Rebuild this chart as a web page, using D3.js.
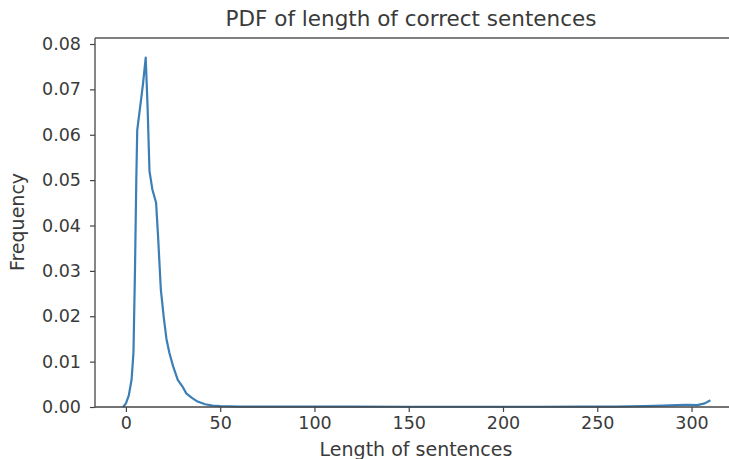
<!DOCTYPE html>
<html>
<head>
<meta charset="utf-8">
<script src="https://cdn.jsdelivr.net/npm/d3@7/dist/d3.min.js"></script>
<style>
html,body{margin:0;padding:0;background:#fff;}
svg text{font-family:"DejaVu Sans",sans-serif;fill:#3a3a3a;}
</style>
</head>
<body>
<svg id="chart" width="729" height="459"></svg>
<script>
const lengths = [-1.5, 0, 1.5, 3, 4, 4.8, 5.5, 6, 7.5, 9, 10.5, 11.5, 12.5, 14, 16, 17, 18.5, 20, 21.5, 23, 25, 27.5, 30, 32, 35, 38, 42, 46, 50, 60, 80, 100, 120, 150, 180, 200, 220, 240, 260, 275, 285, 292, 298, 303, 307, 310];
const density = [0, 0.0008, 0.0025, 0.006, 0.012, 0.03, 0.05, 0.061, 0.066, 0.071, 0.077, 0.066, 0.052, 0.048, 0.045, 0.038, 0.026, 0.02, 0.015, 0.012, 0.009, 0.006, 0.0045, 0.003, 0.002, 0.0012, 0.0006, 0.0003, 0.0002, 0.0001, 0.0001, 0.00008, 0.00008, 0.00005, 0.00005, 0.00005, 0.00006, 0.00008, 0.0001, 0.0002, 0.0003, 0.0004, 0.0005, 0.0004, 0.0008, 0.0015];
const xTicks = [0, 50, 100, 150, 200, 250, 300];
const yTicks = [0.00, 0.01, 0.02, 0.03, 0.04, 0.05, 0.06, 0.07, 0.08];
const titleText = "PDF of length of correct sentences";
const xLabel = "Length of sentences";
const yLabel = "Frequency";

(function () {
const svg = d3.select("#chart");
const pLeft = 95, pRight = 740, pTop = 38, pBottom = 407;
const x = d3.scaleLinear().domain([-16.4, 325.7]).range([pLeft, pRight]);
const y = d3.scaleLinear().domain([0, 0.08]).range([pBottom, 44]);

// spines
svg.append("line").attr("x1", pLeft).attr("x2", pLeft).attr("y1", pTop).attr("y2", pBottom)
  .attr("stroke", "#444").attr("stroke-width", 1.3);
svg.append("line").attr("x1", pLeft).attr("x2", 729).attr("y1", pTop).attr("y2", pTop)
  .attr("stroke", "#555").attr("stroke-width", 1.6);

// line
const line = d3.line().x((d, i) => x(lengths[i])).y(d => y(d));
svg.append("path").datum(density).attr("d", line)
  .attr("fill", "none").attr("stroke", "#3b7fb6").attr("stroke-width", 2.2)
  .attr("stroke-linejoin", "round");

svg.append("line").attr("x1", pLeft).attr("x2", 729).attr("y1", pBottom).attr("y2", pBottom)
  .attr("stroke", "#444").attr("stroke-width", 1.3);

// axes
const xAxis = d3.axisBottom(x).tickValues(xTicks).tickSize(5).tickPadding(5).tickFormat(d3.format("d"));
const gx = svg.append("g").attr("transform", `translate(0,${pBottom})`).call(xAxis);
gx.select(".domain").remove();
gx.selectAll("line").attr("stroke", "#444").attr("stroke-width", 1.2);
gx.selectAll("text").attr("font-size", 17.5).attr("fill", "#3a3a3a");

const yAxis = d3.axisLeft(y).tickValues(yTicks).tickSize(5).tickPadding(9).tickFormat(d3.format(".2f"));
const gy = svg.append("g").attr("transform", `translate(${pLeft},0)`).call(yAxis);
gy.select(".domain").remove();
gy.selectAll("line").attr("stroke", "#444").attr("stroke-width", 1.2);
gy.selectAll("text").attr("font-size", 17.5).attr("fill", "#3a3a3a");

svg.append("text").attr("x", 411).attr("y", 26).attr("text-anchor", "middle")
  .attr("font-size", 21.5).text(titleText);
svg.append("text").attr("x", 416).attr("y", 456).attr("text-anchor", "middle")
  .attr("font-size", 19).text(xLabel);
svg.append("text").attr("transform", "translate(24,222) rotate(-90)").attr("text-anchor", "middle")
  .attr("font-size", 19).text(yLabel);
})();
</script>
</body>
</html>
